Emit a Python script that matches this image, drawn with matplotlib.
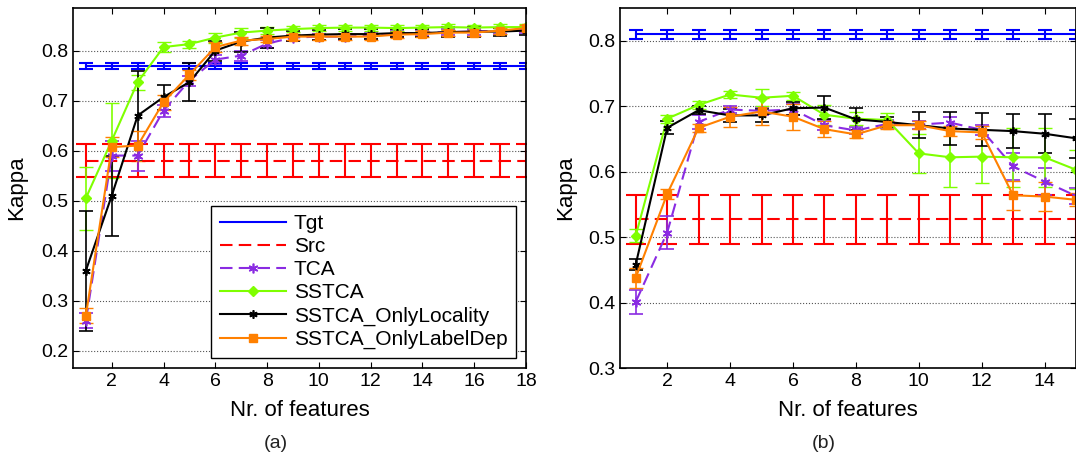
import matplotlib
matplotlib.use('Agg')
import matplotlib.pyplot as plt
from matplotlib.lines import Line2D
import numpy as np

plt.rcParams['font.family'] = ['Liberation Sans', 'DejaVu Sans']

# ---- panel (a) ----
xa = list(range(1, 19))
tgt_a, tgt_a_err = 0.769, 0.006
src_a, src_a_err = 0.58, 0.033
tca_a = [0.26, 0.59, 0.59, 0.68, 0.74, 0.782, 0.79, 0.814, 0.826, 0.828,
         0.828, 0.83, 0.833, 0.835, 0.837, 0.838, 0.84, 0.842]
tca_a_err = [0.015, 0.03, 0.03, 0.012, 0.01, 0.01, 0.01, 0.008, 0.006, 0.006,
             0.006, 0.006, 0.006, 0.006, 0.006, 0.006, 0.006, 0.006]
sstca_a = [0.505, 0.62, 0.737, 0.807, 0.813, 0.826, 0.836, 0.84, 0.843, 0.845,
           0.846, 0.846, 0.845, 0.846, 0.847, 0.846, 0.847, 0.847]
sstca_a_err = [0.063, 0.075, 0.015, 0.01, 0.007, 0.01, 0.01, 0.007, 0.006, 0.006,
               0.006, 0.006, 0.006, 0.006, 0.006, 0.006, 0.006, 0.006]
loc_a = [0.36, 0.51, 0.67, 0.707, 0.737, 0.8, 0.818, 0.826, 0.83, 0.832,
         0.833, 0.833, 0.835, 0.835, 0.837, 0.838, 0.838, 0.84]
loc_a_err = [0.12, 0.08, 0.09, 0.025, 0.038, 0.02, 0.02, 0.02, 0.01, 0.01,
             0.01, 0.01, 0.008, 0.008, 0.01, 0.01, 0.008, 0.008]
lab_a = [0.27, 0.607, 0.61, 0.697, 0.752, 0.807, 0.82, 0.823, 0.828, 0.828,
         0.828, 0.828, 0.832, 0.833, 0.836, 0.836, 0.84, 0.845]
lab_a_err = [0.015, 0.02, 0.03, 0.015, 0.01, 0.01, 0.008, 0.006, 0.006, 0.006,
             0.006, 0.006, 0.006, 0.006, 0.006, 0.006, 0.006, 0.006]

# ---- panel (b) ----
xb = list(range(1, 16))
tgt_b, tgt_b_err = 0.81, 0.0066
src_b, src_b_err = 0.527, 0.037
tca_b = [0.401, 0.507, 0.676, 0.695, 0.693, 0.695, 0.671, 0.663, 0.673, 0.672,
         0.675, 0.664, 0.608, 0.585, 0.563]
tca_b_err = [0.018, 0.025, 0.01, 0.006, 0.006, 0.008, 0.008, 0.006, 0.006, 0.006,
             0.008, 0.008, 0.02, 0.02, 0.012]
sstca_b = [0.502, 0.681, 0.702, 0.718, 0.713, 0.716, 0.687, 0.681, 0.679, 0.628,
           0.622, 0.623, 0.622, 0.622, 0.603]
sstca_b_err = [0.01, 0.006, 0.006, 0.006, 0.013, 0.006, 0.015, 0.01, 0.01, 0.03,
               0.045, 0.04, 0.045, 0.045, 0.03]
loc_b = [0.458, 0.667, 0.694, 0.686, 0.686, 0.697, 0.698, 0.68, 0.676, 0.671,
         0.666, 0.664, 0.662, 0.658, 0.651]
loc_b_err = [0.008, 0.01, 0.006, 0.01, 0.01, 0.01, 0.018, 0.017, 0.008, 0.02,
             0.025, 0.025, 0.026, 0.03, 0.03]
lab_b = [0.438, 0.566, 0.667, 0.684, 0.692, 0.684, 0.665, 0.657, 0.671, 0.671,
         0.662, 0.66, 0.564, 0.562, 0.557]
lab_b_err = [0.015, 0.008, 0.006, 0.015, 0.02, 0.02, 0.012, 0.006, 0.006, 0.006,
             0.008, 0.01, 0.022, 0.022, 0.01]

blue = '#0000ff'
red = '#ff0000'
purple = '#8a2be2'
green = '#7fff00'
black = '#000000'
orange = '#ff8000'
asterisk = (6, 2, 0)
dash = (6, 3)


def draw(ax, x, tgt, tgt_err, src, src_err, tca, tca_err, sst, sst_err,
         loc, loc_err, lab, lab_err):
    n = len(x)
    ax.errorbar(x, [tgt] * n, yerr=[tgt_err] * n, color=blue, lw=1.5,
                capsize=5, elinewidth=1.5, capthick=1.5)
    ax.errorbar(x, [src] * n, yerr=[src_err] * n, color=red, lw=1.5,
                dashes=dash, capsize=7, elinewidth=1.5, capthick=1.5)
    ax.errorbar(x, tca, yerr=tca_err, color=purple, lw=1.5, dashes=dash,
                marker=asterisk, ms=7, mew=1.2, capsize=5, elinewidth=1.2)
    ax.errorbar(x, sst, yerr=sst_err, color=green, lw=1.5, marker='D', ms=5,
                capsize=5, elinewidth=1.2)
    ax.errorbar(x, loc, yerr=loc_err, color=black, lw=1.5, marker=asterisk,
                ms=6, mew=1.2, capsize=5, elinewidth=1.2)
    ax.errorbar(x, lab, yerr=lab_err, color=orange, lw=1.5, marker='s', ms=6,
                capsize=5, elinewidth=1.2)
    ax.yaxis.grid(True, linestyle=':', color='#555555', lw=0.8)
    ax.tick_params(direction='in', top=True, right=True, labelsize=14, length=4)
    ax.set_ylabel('Kappa', fontsize=16)
    ax.set_xlabel('Nr. of features', fontsize=16, labelpad=7)
    for s in ax.spines.values():
        s.set_linewidth(1.2)


fig = plt.figure(figsize=(10.76, 4.55), dpi=100)
ax1 = fig.add_axes([0.0678, 0.1912, 0.421, 0.791])
ax2 = fig.add_axes([0.5762, 0.1912, 0.4238, 0.791])

draw(ax1, xa, tgt_a, tgt_a_err, src_a, src_a_err, tca_a, tca_a_err,
     sstca_a, sstca_a_err, loc_a, loc_a_err, lab_a, lab_a_err)
ax1.set_xlim(0.5, 18)
ax1.set_ylim(0.165, 0.885)
ax1.set_xticks(range(2, 19, 2))
ax1.set_yticks(np.arange(0.2, 0.81, 0.1))
ax1.set_yticklabels(['0.2', '0.3', '0.4', '0.5', '0.6', '0.7', '0.8'])
ax1.yaxis.set_label_coords(-0.101, 0.5)

handles = [
    Line2D([], [], color=blue, lw=1.5),
    Line2D([], [], color=red, lw=1.5, dashes=dash),
    Line2D([], [], color=purple, lw=1.5, dashes=dash, marker=asterisk, ms=7, mew=1.2),
    Line2D([], [], color=green, lw=1.5, marker='D', ms=5),
    Line2D([], [], color=black, lw=1.5, marker=asterisk, ms=6, mew=1.2),
    Line2D([], [], color=orange, lw=1.5, marker='s', ms=6),
]
labels = ['Tgt', 'Src', 'TCA', 'SSTCA', 'SSTCA_OnlyLocality', 'SSTCA_OnlyLabelDep']
leg = ax1.legend(handles, labels, loc='lower right', fontsize=15,
                 handlelength=3.2, handletextpad=0.35, fancybox=False,
                 edgecolor='black', framealpha=1, borderaxespad=0.5,
                 labelspacing=0.2, borderpad=0.4)
leg.get_frame().set_linewidth(1.0)

draw(ax2, xb, tgt_b, tgt_b_err, src_b, src_b_err, tca_b, tca_b_err,
     sstca_b, sstca_b_err, loc_b, loc_b_err, lab_b, lab_b_err)
ax2.set_xlim(0.5, 15)
ax2.set_ylim(0.3, 0.85)
ax2.set_xticks(range(2, 15, 2))
ax2.set_yticks(np.arange(0.3, 0.81, 0.1))
ax2.set_yticklabels(['0.3', '0.4', '0.5', '0.6', '0.7', '0.8'])
ax2.yaxis.set_label_coords(-0.097, 0.5)

fig.text(0.2565, 0.026, '(a)', ha='center', va='center', fontsize=14, color='#222222')
fig.text(0.766, 0.026, '(b)', ha='center', va='center', fontsize=14, color='#222222')

fig.savefig('out.png', dpi=100)
